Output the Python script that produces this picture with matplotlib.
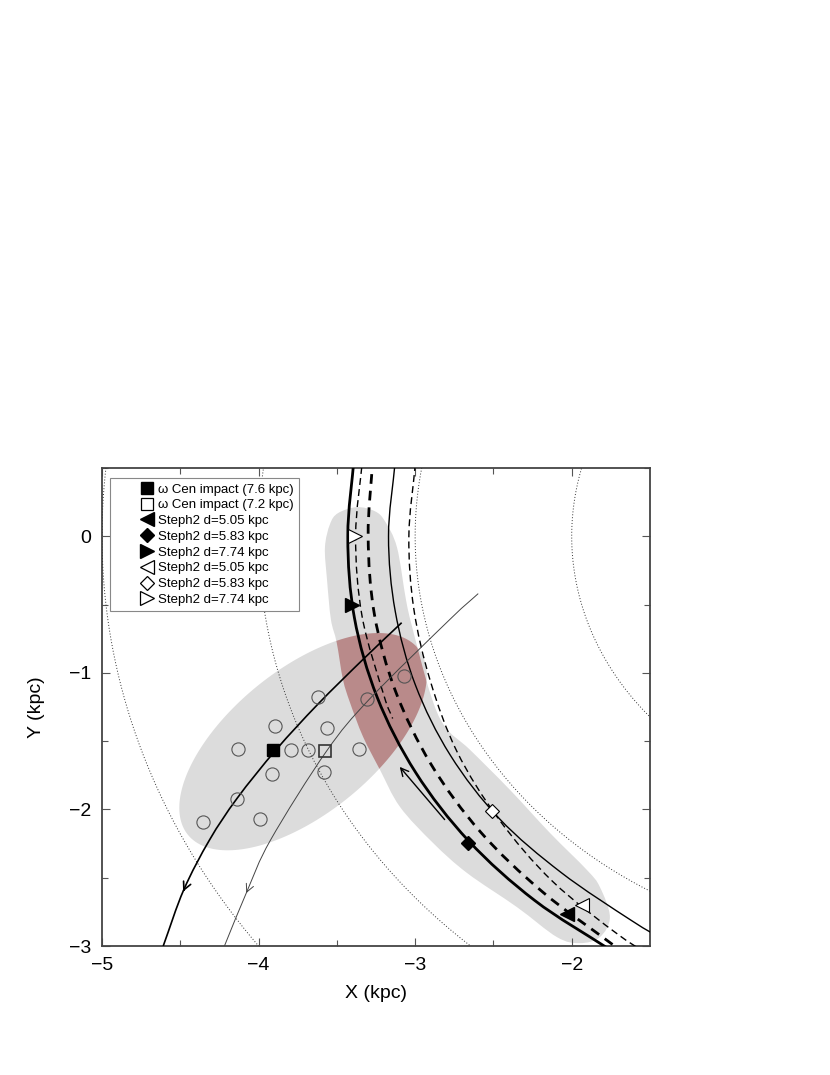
import numpy as np
import matplotlib
matplotlib.use('Agg')
import matplotlib.pyplot as plt
from matplotlib.path import Path
from matplotlib.patches import PathPatch
from matplotlib.lines import Line2D

plt.rcParams['font.family'] = ['Liberation Sans', 'DejaVu Sans']

# Steph2 orbits, read as galactocentric angle (deg) and radius (kpc)
orb1_ang = [170, 180, 190, 200, 210, 220, 230, 240]
orb1_rad = [3.44, 3.43, 3.44, 3.45, 3.46, 3.47, 3.48, 3.50]
orb2_ang = [170, 180, 190, 200, 210, 220, 230, 240]
orb2_rad = [3.32, 3.30, 3.31, 3.325, 3.345, 3.37, 3.40, 3.46]
orb3_ang = [170, 180, 190, 200, 203]
orb3_rad = [3.385, 3.38, 3.39, 3.405, 3.415]
orb4_ang = [170, 180, 190, 200, 210, 220, 230, 240, 245]
orb4_rad = [3.175, 3.17, 3.175, 3.19, 3.205, 3.215, 3.215, 3.245, 3.28]
orb5_ang = [170, 180, 190, 200, 210, 220, 230, 240, 245]
orb5_rad = [3.045, 3.04, 3.055, 3.09, 3.155, 3.22, 3.30, 3.38, 3.42]

# omega Cen orbits (kpc)
wcen1_x = [-4.609, -4.478, -4.313, -4.136, -3.888, -3.623, -3.333, -3.086]
wcen1_y = [-3.0, -2.589, -2.223, -1.917, -1.563, -1.232, -0.902, -0.633]
wcen2_x = [-4.218, -4.074, -3.923, -3.567, -3.288, -2.778, -2.597]
wcen2_y = [-3.0, -2.60, -2.223, -1.575, -1.188, -0.609, -0.420]

# direction arrow along the stream
arrow_tail = (-2.80, -2.09)
arrow_head = (-3.11, -1.673)

# stream footprint outline
band_x = [-3.372, -3.493, -3.544, -3.576, -3.563, -3.538, -3.501, -3.461, -3.416, -3.333,
          -3.225, -3.097, -2.886, -2.669, -2.350, -2.094, -1.948, -1.820, -1.756, -1.820,
          -1.903, -2.139, -2.395, -2.650, -2.810, -2.905, -3.020, -3.059, -3.116, -3.193, -3.257]
band_y = [0.213, 0.169, 0.088, -0.081, -0.315, -0.609, -0.778, -1.049, -1.218, -1.467,
          -1.709, -1.981, -2.245, -2.465, -2.715, -2.935, -2.979, -2.935, -2.788, -2.568,
          -2.443, -2.172, -1.856, -1.563, -1.394, -1.145, -0.660, -0.462, -0.081, 0.110, 0.183]

# omega Cen impact region (ellipse)
ell_centre = (-3.716, -1.504)
ell_axis_a = (0.736, 0.681)
ell_axis_b = (-0.288, 0.411)

# candidate points
circ_x = [-3.619, -3.895, -3.565, -4.133, -3.793, -3.686, -3.357, -3.916, -3.582, -4.136, -4.353, -3.991, -3.310, -3.070]
circ_y = [-1.179, -1.387, -1.403, -1.557, -1.568, -1.563, -1.557, -1.739, -1.726, -1.926, -2.092, -2.071, -1.188, -1.020]

imp_filled = (-3.906, -1.563)
imp_open = (-3.576, -1.575)
steph_filled_x = [-2.029, -2.661, -3.404]
steph_filled_y = [-2.768, -2.243, -0.506]
steph_open_x = [-1.937, -2.512, -3.384]
steph_open_y = [-2.700, -2.015, 0.0]
steph_markers = ['<', 'D', '>']
steph_sizes = [10, 7, 10]
steph_labels = ['Steph2 d=5.05 kpc', 'Steph2 d=5.83 kpc', 'Steph2 d=7.74 kpc']

ring_radii = [2, 3, 4, 5]


def smooth_path(xs, ys, closed=False):
    p = np.column_stack([xs, ys]).astype(float)
    if closed:
        p = np.vstack([p[-1], p, p[0], p[1]])
    else:
        p = np.vstack([2 * p[0] - p[1], p, 2 * p[-1] - p[-2]])
    verts = [p[1]]
    codes = [Path.MOVETO]
    for i in range(1, len(p) - 2):
        c1 = p[i] + (p[i + 1] - p[i - 1]) / 6
        c2 = p[i + 1] - (p[i + 2] - p[i]) / 6
        verts += [c1, c2, p[i + 1]]
        codes += [Path.CURVE4] * 3
    if closed:
        verts.append(p[1])
        codes.append(Path.CLOSEPOLY)
    return Path(verts, codes)


def draw_curve(ax, xs, ys, **kw):
    patch = PathPatch(smooth_path(xs, ys), fill=False, capstyle='butt', **kw)
    ax.add_patch(patch)
    return patch


def draw_orbit(ax, ang, rad, **kw):
    a = np.radians(ang)
    r = np.asarray(rad)
    return draw_curve(ax, r * np.cos(a), r * np.sin(a), **kw)


fig = plt.figure(figsize=(8.3, 10.75), dpi=100)
ax = fig.add_axes([0.1229, 0.12, 0.6602, 0.4447])

# shaded regions
band = PathPatch(smooth_path(band_x, band_y, closed=True), facecolor='#dcdcdc', edgecolor='none', zorder=1)
ax.add_patch(band)
t = np.linspace(0, 2 * np.pi, 200)
ex = ell_centre[0] + np.cos(t) * ell_axis_a[0] + np.sin(t) * ell_axis_b[0]
ey = ell_centre[1] + np.cos(t) * ell_axis_a[1] + np.sin(t) * ell_axis_b[1]
ax.fill(ex, ey, color='#dcdcdc', lw=0, zorder=1)
red, = ax.fill(ex, ey, color='#b98a8a', lw=0, zorder=2)
red.set_clip_path(band)

# galactocentric rings
th = np.linspace(0, 2 * np.pi, 720)
for r in ring_radii:
    ax.plot(r * np.cos(th), r * np.sin(th), color='#333333', lw=0.7, ls=(0, (1, 2)), zorder=3)

# orbits
draw_orbit(ax, orb1_ang, orb1_rad, color='black', lw=2.0, zorder=5)
draw_orbit(ax, orb2_ang, orb2_rad, color='black', lw=2.0, ls=(0, (3.5, 2.5)), zorder=5)
draw_orbit(ax, orb3_ang, orb3_rad, color='black', lw=1.0, ls=(0, (5, 3)), zorder=5)
draw_orbit(ax, orb4_ang, orb4_rad, color='black', lw=1.0, zorder=5)
draw_orbit(ax, orb5_ang, orb5_rad, color='black', lw=1.0, ls=(0, (5, 3)), zorder=5)
draw_curve(ax, wcen1_x, wcen1_y, color='black', lw=1.2, zorder=5)
draw_curve(ax, wcen2_x, wcen2_y, color='#444444', lw=0.7, zorder=5)

ax.annotate('', xy=arrow_head, xytext=arrow_tail,
            arrowprops=dict(arrowstyle='->', lw=1.0, color='black', mutation_scale=14), zorder=6)
for xs, ys, c, lw in [(wcen1_x, wcen1_y, 'black', 1.2), (wcen2_x, wcen2_y, '#444444', 0.7)]:
    ax.annotate('', xy=(xs[1] - 0.03 * (xs[1] - xs[0]), ys[1] - 0.03 * (ys[1] - ys[0])),
                xytext=(xs[1] + 0.05 * (xs[2] - xs[1]), ys[1] + 0.05 * (ys[2] - ys[1])),
                arrowprops=dict(arrowstyle='->', lw=lw, color=c, mutation_scale=14), zorder=6)

# points
ax.plot(circ_x, circ_y, 'o', ms=9.5, mfc='none', mec='#555555', mew=0.8, zorder=6)
ax.plot(*imp_filled, 's', ms=8, color='black', zorder=7)
ax.plot(*imp_open, 's', ms=8, mfc='none', mec='#333333', mew=1.2, zorder=7)
for i in range(3):
    ax.plot(steph_filled_x[i], steph_filled_y[i], steph_markers[i], ms=steph_sizes[i], color='black', zorder=7)
    ax.plot(steph_open_x[i], steph_open_y[i], steph_markers[i], ms=steph_sizes[i], mfc='white',
            mec='black', mew=0.8, zorder=7)

# legend
handles = [Line2D([], [], ls='none', marker='s', ms=8, color='black'),
           Line2D([], [], ls='none', marker='s', ms=8, mfc='none', mec='black', mew=0.9)]
labels = ['ω Cen impact (7.6 kpc)', 'ω Cen impact (7.2 kpc)']
for i in range(3):
    handles.append(Line2D([], [], ls='none', marker=steph_markers[i], ms=steph_sizes[i], color='black'))
    labels.append(steph_labels[i])
for i in range(3):
    handles.append(Line2D([], [], ls='none', marker=steph_markers[i], ms=steph_sizes[i],
                          mfc='white', mec='black', mew=0.9))
    labels.append(steph_labels[i])
leg = ax.legend(handles, labels, loc='upper left', bbox_to_anchor=(0.0146, 0.979), borderaxespad=0,
                fontsize=9.5, handlelength=4.8, handletextpad=-1.55, labelspacing=0.27,
                fancybox=False, framealpha=1, edgecolor='#888888', numpoints=1)
leg.get_frame().set_linewidth(0.8)
leg.set_zorder(10)

ax.set_xlim(-5, -1.5)
ax.set_ylim(-3, 0.5)
ax.set_xticks([-5, -4, -3, -2])
ax.set_yticks([0, -1, -2, -3])
ax.set_xticks(np.arange(-4.5, -1.5, 1), minor=True)
ax.set_yticks([0.5, -0.5, -1.5, -2.5], minor=True)
ax.tick_params(which='both', direction='in', top=True, right=True, labelsize=14, width=0.8, color='#555555')
ax.tick_params(which='major', length=6, pad=8)
ax.tick_params(which='minor', length=4)
for s in ax.spines.values():
    s.set_linewidth(1.3)
    s.set_color('#444444')
ax.set_xlabel('X (kpc)', fontsize=14, labelpad=8)
ax.set_ylabel('Y (kpc)', fontsize=14, labelpad=17)

fig.savefig('out.png', dpi=100)
